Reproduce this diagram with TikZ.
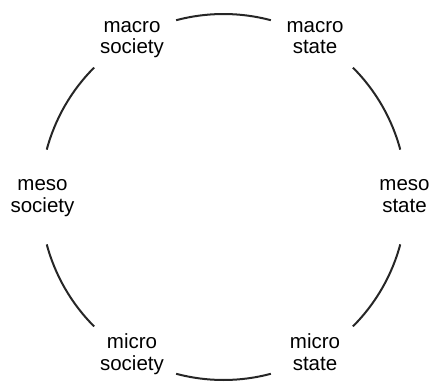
\documentclass[tikz,border=0pt]{standalone}
\usepackage{fontspec}
\setmainfont{Liberation Sans}
\usetikzlibrary{calc}
% two-line label with struts, so both lines sit on fixed baselines
\newcommand\ringlabel[2]{\strut#1\\\strut#2}
\begin{document}
\begin{tikzpicture}[x=1pt,y=1pt,
  level/.style={align=center, text=black, inner sep=0pt,
    font=\fontsize{20.5}{21.7}\selectfont},
  % arc along the ring from one level to the next, leaving a gap at each end
  ring/.style={draw=black!85, line width=2pt,
    to path={
      let \p1=($(\tikztostart)-(o)$), \p2=($(\tikztotarget)-(o)$),
          \n1={atan2(\y1,\x1)}, \n2={atan2(\y2,\x2)},
          \n3={mod(\n1-\n2+720,360)}
      in ($(o)+(\n1-15:183)$)
         arc[start angle=\n1-15, end angle=\n1-\n3+15, radius=183]}}]
\useasboundingbox (0,0) rectangle (430,381);
\coordinate (o) at (223.5,184);

\node[level] (macsoc) at ($(o)+(120:183)$) {\ringlabel{macro}{society}};
\node[level] (macsta) at ($(o)+(60:183)$)  {\ringlabel{macro}{state}};
\node[level] (messta) at ($(o)+(0:181)$)   {\ringlabel{meso}{state}};
\node[level] (micsta) at ($(o)+(-60:183)$) {\ringlabel{micro}{state}};
\node[level] (micsoc) at ($(o)+(-120:183)$){\ringlabel{micro}{society}};
\node[level] (messoc) at ($(o)+(180:181)$) {\ringlabel{meso}{society}};

\draw[ring] (macsoc) to (macsta);
\draw[ring] (macsta) to (messta);
\draw[ring] (messta) to (micsta);
\draw[ring] (micsta) to (micsoc);
\draw[ring] (micsoc) to (messoc);
\draw[ring] (messoc) to (macsoc);
\end{tikzpicture}
\end{document}
